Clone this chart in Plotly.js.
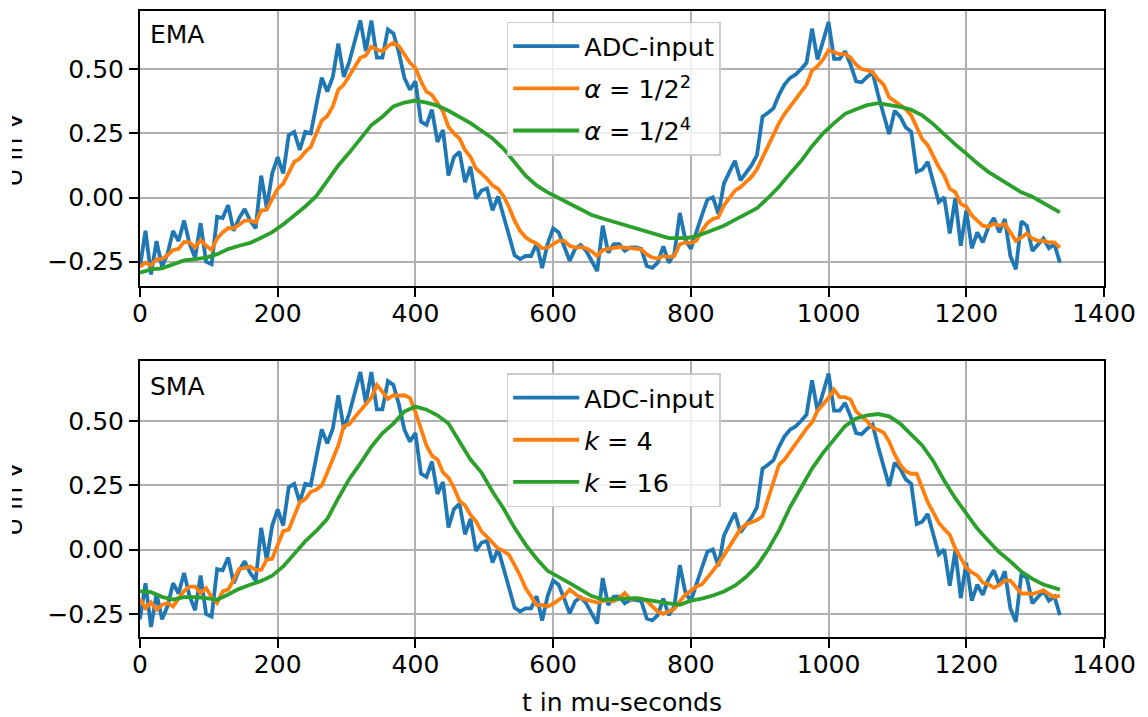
<!DOCTYPE html>
<html>
<head>
<meta charset="utf-8">
<script src="https://cdn.plot.ly/plotly-3.0.1.min.js"></script>
<style>html,body{margin:0;padding:0;background:#fff;}#chart{width:1148px;height:717px;}</style>
</head>
<body>
<div id="chart"></div>
<script>
// sample times of the ADC input (µs)
const tADC = [0,8,16,24,32,40,48,56,64,72,80,88,96,104,112,120,128,136,144,152,160,168,176,184,192,200,208,216,224,232,240,248,256,264,272,280,288,296,304,312,320,328,336,344,352,360,368,376,384,392,400,408,416,424,432,440,448,456,464,472,480,488,496,504,512,520,528,536,544,552,560,568,576,584,592,600,608,616,624,632,640,648,656,664,672,680,688,696,704,712,720,728,736,744,752,760,768,776,784,792,800,808,816,824,832,840,848,856,864,872,880,888,896,904,912,920,928,936,944,952,960,968,976,984,992,1000,1008,1016,1024,1032,1040,1048,1056,1064,1072,1080,1088,1096,1104,1112,1120,1128,1136,1144,1152,1160,1168,1176,1184,1192,1200,1208,1216,1224,1232,1240,1248,1256,1264,1272,1280,1288,1296,1304,1312,1320,1328,1336];

const adcInput = [
-0.27,-0.13,-0.30,-0.17,-0.27,-0.22,-0.13,-0.17,-0.09,-0.18,
-0.235,-0.10,-0.25,-0.26,-0.075,-0.08,-0.03,-0.13,-0.08,-0.045,
-0.09,-0.12,0.085,-0.04,0.094,0.157,0.094,0.243,0.256,0.185,
0.256,0.25,0.36,0.467,0.413,0.47,0.60,0.47,0.53,0.61,
0.69,0.57,0.69,0.545,0.545,0.655,0.64,0.565,0.466,0.42,
0.453,0.296,0.283,0.342,0.217,0.263,0.086,0.158,0.178,0.06,
0.12,-0.005,0.027,0.035,-0.05,0.004,-0.077,-0.15,-0.225,-0.24,
-0.228,-0.228,-0.18,-0.275,-0.18,-0.12,-0.136,-0.19,-0.247,-0.2,
-0.185,-0.208,-0.247,-0.287,-0.11,-0.215,-0.182,-0.182,-0.208,-0.195,
-0.195,-0.2,-0.267,-0.274,-0.254,-0.19,-0.254,-0.22,-0.06,-0.165,
-0.2,-0.13,-0.07,-0.008,0.001,-0.064,0.054,0.10,0.143,0.067,
0.095,0.125,0.165,0.315,0.33,0.348,0.40,0.44,0.466,0.479,
0.50,0.525,0.658,0.538,0.61,0.684,0.54,0.54,0.57,0.518,
0.453,0.449,0.47,0.486,0.40,0.32,0.247,0.338,0.315,0.274,
0.256,0.10,0.109,0.139,0.067,-0.018,0.001,-0.14,-0.003,-0.188,
-0.051,-0.198,-0.136,-0.175,-0.116,-0.08,-0.136,-0.084,-0.228,-0.28,
-0.093,-0.11,-0.208,-0.182,-0.16,-0.198,-0.182,-0.254];

const emaAlpha4 = [
-0.27,-0.254,-0.265,-0.24,-0.24,-0.225,-0.205,-0.2,-0.173,-0.175,
-0.195,-0.166,-0.188,-0.205,-0.16,-0.136,-0.119,-0.12,-0.106,-0.09,
-0.09,-0.097,-0.051,-0.048,-0.005,0.034,0.054,0.1,0.139,0.152,
0.178,0.197,0.25,0.30,0.318,0.355,0.42,0.44,0.475,0.51,
0.545,0.554,0.588,0.577,0.57,0.59,0.603,0.59,0.558,0.525,
0.505,0.453,0.413,0.40,0.368,0.335,0.276,0.25,0.23,0.185,
0.158,0.113,0.093,0.073,0.047,0.034,0.005,-0.038,-0.09,-0.13,
-0.155,-0.17,-0.179,-0.198,-0.195,-0.182,-0.169,-0.169,-0.188,-0.195,
-0.193,-0.198,-0.21,-0.228,-0.205,-0.2,-0.198,-0.193,-0.195,-0.198,
-0.198,-0.202,-0.222,-0.234,-0.238,-0.228,-0.232,-0.228,-0.182,-0.175,
-0.178,-0.169,-0.13,-0.1,-0.084,-0.077,-0.031,0.0,0.027,0.04,
0.06,0.08,0.11,0.155,0.2,0.237,0.29,0.325,0.355,0.385,
0.41,0.44,0.495,0.512,0.538,0.574,0.567,0.558,0.56,0.545,
0.518,0.501,0.496,0.488,0.46,0.44,0.391,0.375,0.36,0.345,
0.32,0.27,0.228,0.204,0.158,0.119,0.086,0.034,0.021,-0.025,
-0.035,-0.07,-0.09,-0.11,-0.114,-0.103,-0.11,-0.103,-0.136,-0.169,
-0.156,-0.14,-0.16,-0.169,-0.169,-0.175,-0.175,-0.195];

const smaK4 = [
-0.19,-0.227,-0.205,-0.233,-0.214,-0.207,-0.22,-0.19,-0.16,-0.143,
-0.143,-0.168,-0.149,-0.184,-0.207,-0.162,-0.155,-0.117,-0.075,-0.071,
-0.065,-0.078,-0.078,-0.039,-0.035,0.019,0.072,0.078,0.13,0.184,
0.197,0.225,0.233,0.25,0.3,0.35,0.405,0.48,0.488,0.515,
0.54,0.565,0.59,0.64,0.615,0.586,0.6,0.598,0.6,0.59,
0.535,0.47,0.405,0.365,0.35,0.30,0.28,0.24,0.19,0.172,
0.135,0.11,0.07,0.05,0.025,0.005,-0.005,-0.02,-0.06,-0.1,
-0.149,-0.18,-0.215,-0.214,-0.22,-0.21,-0.195,-0.18,-0.155,-0.172,
-0.188,-0.194,-0.199,-0.205,-0.2,-0.196,-0.2,-0.188,-0.168,-0.192,
-0.188,-0.19,-0.2,-0.222,-0.24,-0.249,-0.24,-0.23,-0.2,-0.175,
-0.16,-0.143,-0.135,-0.11,-0.085,-0.055,-0.022,0.012,0.045,0.08,
0.098,0.108,0.115,0.13,0.2,0.26,0.33,0.35,0.38,0.41,
0.443,0.47,0.495,0.54,0.564,0.59,0.622,0.593,0.593,0.583,
0.537,0.518,0.499,0.473,0.466,0.455,0.42,0.37,0.33,0.305,
0.295,0.295,0.235,0.185,0.145,0.105,0.08,0.058,0.005,-0.03,
-0.07,-0.088,-0.1,-0.128,-0.134,-0.148,-0.137,-0.12,-0.12,-0.145,
-0.17,-0.17,-0.172,-0.165,-0.158,-0.172,-0.184,-0.178];

// read positions for the slow filters (µs)
const tSlow = [0,16,32,48,64,80,96,112,128,144,160,176,192,208,224,240,256,272,288,304,320,336,352,368,384,400,416,432,448,464,480,496,512,528,544,560,576,592,608,624,640,656,672,688,704,720,736,752,768,784,800,816,832,848,864,880,896,912,928,944,960,976,992,1008,1024,1040,1056,1072,1088,1104,1120,1136,1152,1168,1184,1200,1216,1232,1248,1264,1280,1296,1312,1328,1336];

const emaAlpha16 = [
-0.293,-0.28,-0.276,-0.26,-0.245,-0.24,-0.234,-0.221,-0.201,-0.188,
-0.177,-0.157,-0.135,-0.105,-0.07,-0.035,0.005,0.068,0.125,0.175,
0.23,0.282,0.315,0.355,0.37,0.378,0.37,0.358,0.338,0.315,
0.29,0.26,0.23,0.19,0.135,0.085,0.047,0.02,-0.002,-0.025,
-0.048,-0.068,-0.082,-0.095,-0.108,-0.12,-0.133,-0.148,-0.158,-0.158,
-0.156,-0.143,-0.128,-0.11,-0.087,-0.066,-0.042,-0.002,0.042,0.093,
0.142,0.2,0.25,0.29,0.326,0.344,0.36,0.368,0.361,0.353,
0.342,0.32,0.286,0.245,0.207,0.171,0.133,0.1,0.073,0.05,
0.02,0.003,-0.02,-0.046,-0.058];

const smaK16 = [
-0.162,-0.165,-0.183,-0.194,-0.184,-0.184,-0.188,-0.194,-0.174,-0.152,
-0.136,-0.121,-0.101,-0.065,-0.017,0.033,0.073,0.12,0.2,0.275,
0.335,0.4,0.452,0.49,0.537,0.556,0.544,0.522,0.49,0.42,
0.35,0.30,0.225,0.16,0.085,0.02,-0.035,-0.082,-0.108,-0.13,
-0.155,-0.18,-0.194,-0.192,-0.188,-0.188,-0.195,-0.203,-0.208,-0.214,
-0.198,-0.19,-0.178,-0.162,-0.14,-0.106,-0.063,0.0,0.075,0.165,
0.24,0.315,0.376,0.43,0.48,0.51,0.522,0.527,0.518,0.49,
0.45,0.405,0.345,0.268,0.2,0.138,0.082,0.035,-0.01,-0.045,
-0.085,-0.113,-0.135,-0.148,-0.155];

const xTicks = [0,200,400,600,800,1000,1200,1400];
const yTicks = [-0.25,0,0.25,0.5];
const yTickText = ['\u22120.25','0.00','0.25','0.50'];
const legendTop = ['ADC-input','<i>α</i> = 1/2<sup>2</sup>','<i>α</i> = 1/2<sup>4</sup>'];
const legendBottom = ['ADC-input','<i>k</i> = 4','<i>k</i> = 16'];
const panelNames = ['EMA','SMA'];
const yTitle = 'U in V';
const xTitle = 't in mu-seconds';

const BLUE='#1f77b4', ORANGE='#ff7f0e', GREEN='#2ca02c';
const FONT='DejaVu Sans, Verdana, sans-serif';
const LW=3.8;

function tr(x,y,name,color,xa,ya,leg,grp){
  return {x:x,y:y,name:name,type:'scatter',mode:'lines',xaxis:xa,yaxis:ya,
    line:{color:color,width:LW},legend:leg,legendgroup:grp,hoverinfo:'skip'};
}
const data = [
  tr(tADC,adcInput,legendTop[0],BLUE,'x','y','legend','a1'),
  tr(tADC,emaAlpha4,legendTop[1],ORANGE,'x','y','legend','a2'),
  tr(tSlow,emaAlpha16,legendTop[2],GREEN,'x','y','legend','a3'),
  tr(tADC,adcInput,legendBottom[0],BLUE,'x2','y2','legend2','b1'),
  tr(tADC,smaK4,legendBottom[1],ORANGE,'x2','y2','legend2','b2'),
  tr(tSlow,smaK16,legendBottom[2],GREEN,'x2','y2','legend2','b3')
];

function xax(anchor){
  return {anchor:anchor,domain:[0,1],range:[0,1400],tickvals:xTicks,ticks:'outside',ticklen:9,tickwidth:2,tickcolor:'#000',
    ticklabelstandoff:-5,
    showline:true,linecolor:'#000',linewidth:2,mirror:true,showgrid:true,gridcolor:'#b0b0b0',gridwidth:2,zeroline:false,
    tickfont:{family:FONT,size:25,color:'#000'}};
}
function yax(anchor,dom,rng){
  return {anchor:anchor,domain:dom,range:rng,tickvals:yTicks,ticktext:yTickText,ticks:'outside',ticklen:9,tickwidth:2,tickcolor:'#000',
    showline:true,linecolor:'#000',linewidth:2,mirror:true,showgrid:true,gridcolor:'#b0b0b0',gridwidth:2,zeroline:false,
    tickfont:{family:FONT,size:25,color:'#000'}};
}
const xa2 = xax('y2');
xa2.title = {text:xTitle,font:{family:FONT,size:25,color:'#000'},standoff:16};

const legStyle = {bgcolor:'rgba(255,255,255,0.8)',bordercolor:'#cccccc',borderwidth:1.5,
  font:{family:FONT,size:25.5,color:'#000'},xanchor:'left',yanchor:'top',tracegroupgap:6,itemwidth:66,
  entrywidth:150,entrywidthmode:'pixels'};

const layout = {
  width:1148,height:717,margin:{l:140,r:44,t:11,b:80},
  paper_bgcolor:'#fff',plot_bgcolor:'#fff',showlegend:true,
  font:{family:FONT,size:25,color:'#000'},
  xaxis:xax('y'),
  yaxis:yax('x',[0.5607,1],[-0.345,0.727]),
  xaxis2:xa2,
  yaxis2:yax('x2',[0,0.4409],[-0.339,0.733]),
  legend:Object.assign({x:0.3804,y:0.983},legStyle),
  legend2:Object.assign({x:0.3804,y:0.4217},legStyle),
  annotations:[
    {xref:'x domain',yref:'y domain',x:0.008,y:0.916,xanchor:'left',yanchor:'middle',text:panelNames[0],showarrow:false,font:{family:FONT,size:25,color:'#000'}},
    {xref:'x2 domain',yref:'y2 domain',x:0.008,y:0.909,xanchor:'left',yanchor:'middle',text:panelNames[1],showarrow:false,font:{family:FONT,size:25,color:'#000'}},
    {xref:'paper',yref:'paper',x:-0.131,y:0.778,xanchor:'center',yanchor:'middle',textangle:-90,text:yTitle,showarrow:false,font:{family:FONT,size:25,color:'#000'}},
    {xref:'paper',yref:'paper',x:-0.131,y:0.22,xanchor:'center',yanchor:'middle',textangle:-90,text:yTitle,showarrow:false,font:{family:FONT,size:25,color:'#000'}},
    // the reference shows the y titles cut off at the left edge of the figure
    {xref:'paper',yref:'paper',x:-0.1453,y:0.5,xanchor:'left',yanchor:'middle',text:' ',showarrow:false,width:12,height:717,bgcolor:'#ffffff',borderpad:0,borderwidth:0,font:{size:10}}
  ]
};
Plotly.newPlot('chart',data,layout,{displayModeBar:false,staticPlot:true});
</script>
</body>
</html>
